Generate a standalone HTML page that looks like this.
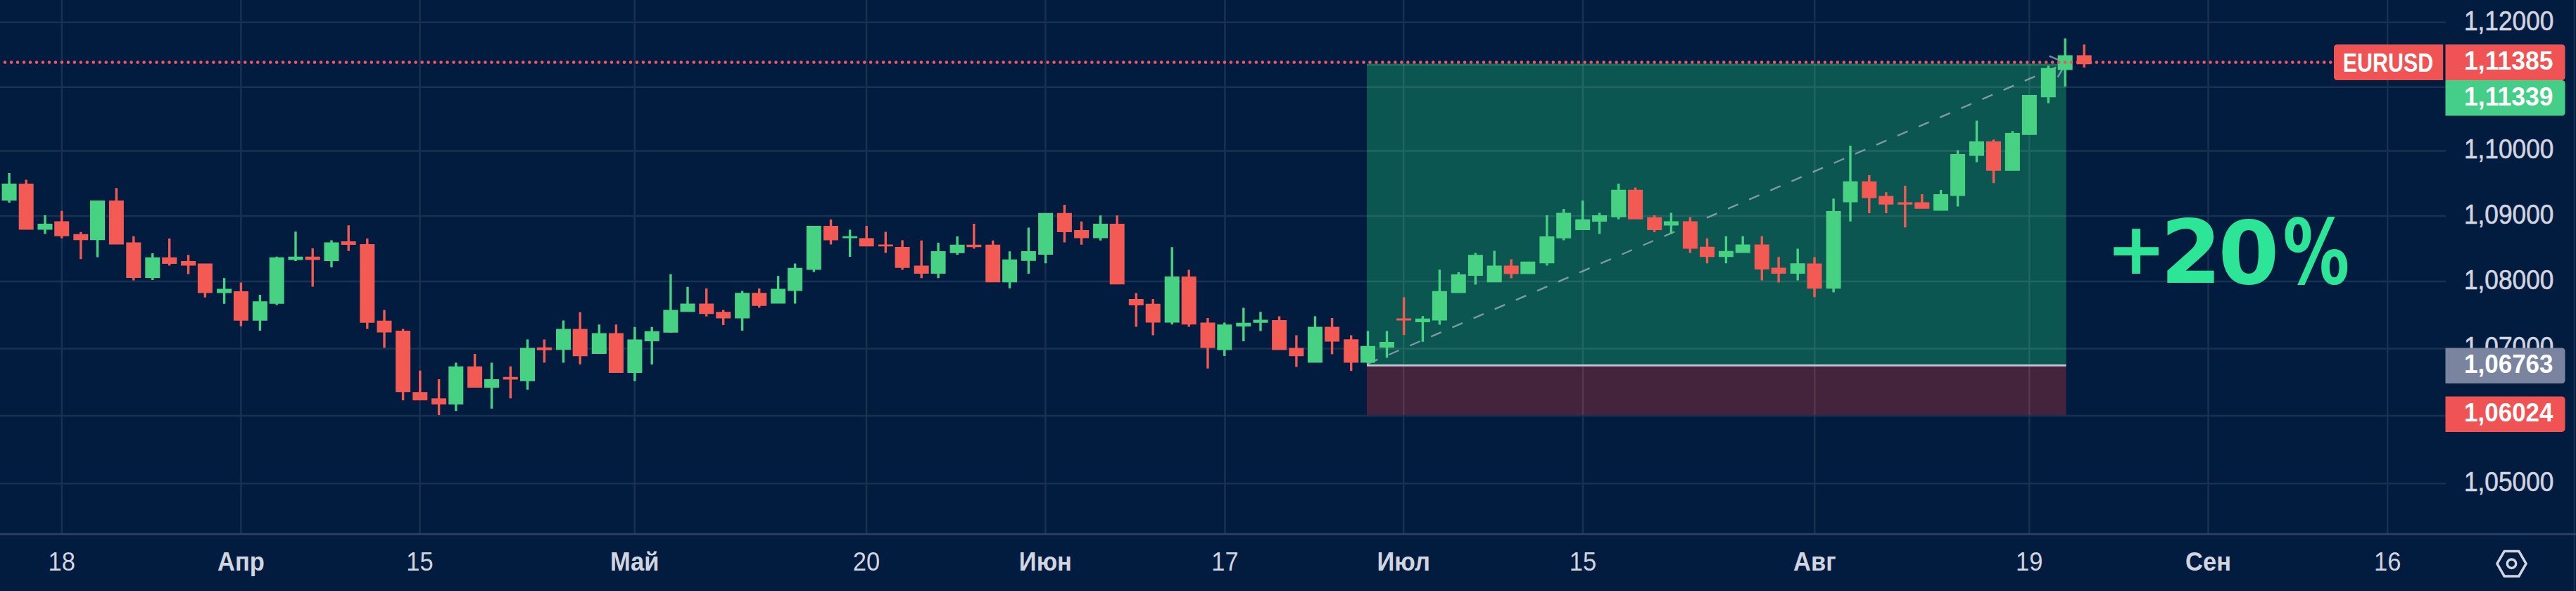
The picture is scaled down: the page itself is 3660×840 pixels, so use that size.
<!DOCTYPE html>
<html><head><meta charset="utf-8"><style>
html,body{margin:0;padding:0;background:#021c3f;}
svg{display:block;}
</style></head><body>
<svg width="3660" height="840" viewBox="0 0 3660 840">
<rect x="0" y="0" width="3660" height="840" fill="#021c3f"/>
<rect x="1942" y="90.6" width="993.6" height="428.7" fill="#0b5650"/>
<rect x="1942" y="519.3" width="993.6" height="70.5" fill="#44233c"/>
<line x1="1942" x2="2935.6" y1="92.2" y2="92.2" stroke="#17705e" stroke-width="3"/>
<path d="M0 31.8H3475M0 123.8H3475M0 214.6H3475M0 306.9H3475M0 400.1H3475M0 495.5H3475M0 591.1H3475M0 687.2H3475M87.8 0V757.9M342.4 0V757.9M596.5 0V757.9M901.7 0V757.9M1231.0 0V757.9M1485.4 0V757.9M1740.4 0V757.9M1994.2 0V757.9M2249.0 0V757.9M2578.3 0V757.9M2883.3 0V757.9M3137.5 0V757.9M3392.2 0V757.9" stroke="#ffffff" stroke-opacity="0.095" stroke-width="2.5" fill="none"/>
<line x1="3657.6" x2="3657.6" y1="0" y2="840" stroke="#1b3258" stroke-width="1.8"/>
<line x1="0" x2="3660" y1="759.1" y2="759.1" stroke="#2c4068" stroke-width="2.6"/>
<line x1="1942" y1="517.6" x2="2935.6" y2="89.6" stroke="#aab3c8" stroke-opacity="0.72" stroke-width="2.4" stroke-dasharray="15.8 17" stroke-dashoffset="-1"/>
<path d="M2911.6 79.6L2935.6 89.6L2923.6 109.6" stroke="#aab3c8" stroke-opacity="0.72" stroke-width="2.4" fill="none"/>
<path d="M11.4 246.1h3.4V288.0h-3.4ZM2.6 260.9h21V285.0h-21ZM62.3 306.1h3.4V332.4h-3.4ZM53.5 318.0h21V326.4h-21ZM136.8 285.0h3.4V365.4h-3.4ZM128.0 285.0h21V341.3h-21ZM215.1 359.9h3.4V398.0h-3.4ZM206.3 365.8h21V395.0h-21ZM316.9 395.3h3.4V431.8h-3.4ZM308.1 410.5h21V416.6h-21ZM367.7 419.1h3.4V469.9h-3.4ZM358.9 428.3h21V455.7h-21ZM391.5 364.8h3.4V433.4h-3.4ZM382.7 365.8h21V431.8h-21ZM418.3 329.3h3.4V370.9h-3.4ZM409.5 364.8h21V369.4h-21ZM469.3 341.5h3.4V380.0h-3.4ZM460.5 344.5h21V370.9h-21ZM646.1 515.4h3.4V584.1h-3.4ZM637.3 520.8h21V574.7h-21ZM696.9 515.4h3.4V580.7h-3.4ZM688.1 539.1h21V551.0h-21ZM747.8 482.6h3.4V553.7h-3.4ZM739.0 494.4h21V541.8h-21ZM798.8 455.5h3.4V515.4h-3.4ZM790.0 467.4h21V497.2h-21ZM849.6 461.3h3.4V502.9h-3.4ZM840.8 473.5h21V502.9h-21ZM900.2 464.7h3.4V541.8h-3.4ZM891.4 482.6h21V530.0h-21ZM924.5 464.7h3.4V518.1h-3.4ZM915.7 470.8h21V485.0h-21ZM951.2 389.8h3.4V473.1h-3.4ZM942.4 440.6h21V472.7h-21ZM975.3 407.8h3.4V443.3h-3.4ZM966.5 431.5h21V443.3h-21ZM1052.9 413.5h3.4V470.0h-3.4ZM1044.1 416.2h21V452.4h-21ZM1103.9 392.2h3.4V431.5h-3.4ZM1095.1 410.5h21V431.5h-21ZM1127.9 374.6h3.4V431.5h-3.4ZM1119.1 380.7h21V413.5h-21ZM1154.6 321.1h3.4V386.4h-3.4ZM1145.8 321.1h21V383.4h-21ZM1205.9 326.5h3.4V365.1h-3.4ZM1197.1 335.7h21V338.4h-21ZM1331.4 345.1h3.4V395.2h-3.4ZM1322.6 357.0h21V389.1h-21ZM1358.4 336.0h3.4V362.0h-3.4ZM1349.6 347.8h21V359.7h-21ZM1432.9 357.3h3.4V409.8h-3.4ZM1424.1 368.8h21V401.3h-21ZM1459.7 323.5h3.4V389.1h-3.4ZM1450.9 357.0h21V370.8h-21ZM1483.9 302.8h3.4V374.2h-3.4ZM1475.1 302.8h21V362.0h-21ZM1561.9 306.2h3.4V341.7h-3.4ZM1553.1 318.1h21V338.4h-21ZM1663.5 351.2h3.4V461.2h-3.4ZM1654.7 392.9h21V458.5h-21ZM1738.1 458.5h3.4V505.9h-3.4ZM1729.3 461.2h21V497.4h-21ZM1765.1 437.5h3.4V484.9h-3.4ZM1756.3 458.8h21V463.9h-21ZM1789.3 443.3h3.4V470.4h-3.4ZM1780.5 454.4h21V458.8h-21ZM1866.8 449.4h3.4V515.4h-3.4ZM1858.0 464.6h21V515.4h-21ZM1941.8 470.4h3.4V518.7h-3.4ZM1933.0 491.7h21V515.4h-21ZM1968.8 470.4h3.4V508.6h-3.4ZM1960.0 485.9h21V494.0h-21ZM2019.7 449.3h3.4V485.8h-3.4ZM2010.9 452.7h21V458.1h-21ZM2043.7 383.3h3.4V461.5h-3.4ZM2034.9 413.7h21V455.4h-21ZM2070.6 387.0h3.4V416.4h-3.4ZM2061.8 390.0h21V416.4h-21ZM2094.7 359.6h3.4V404.6h-3.4ZM2085.9 362.3h21V392.1h-21ZM2121.5 356.5h3.4V401.2h-3.4ZM2112.7 377.5h21V401.2h-21ZM2169.1 371.8h3.4V389.4h-3.4ZM2160.3 371.8h21V389.4h-21ZM2196.2 306.0h3.4V377.5h-3.4ZM2187.4 335.9h21V374.2h-21ZM2220.0 296.9h3.4V341.5h-3.4ZM2211.2 302.6h21V338.8h-21ZM2247.0 285.0h3.4V327.0h-3.4ZM2238.2 311.7h21V327.0h-21ZM2270.9 302.6h3.4V332.4h-3.4ZM2262.1 306.0h21V315.1h-21ZM2298.0 261.0h3.4V311.7h-3.4ZM2289.2 269.8h21V308.7h-21ZM2372.7 302.6h3.4V332.4h-3.4ZM2363.9 314.5h21V320.5h-21ZM2450.7 335.8h3.4V374.3h-3.4ZM2441.9 356.8h21V365.2h-21ZM2474.5 335.8h3.4V359.5h-3.4ZM2465.7 347.6h21V359.5h-21ZM2552.5 353.4h3.4V398.4h-3.4ZM2543.7 374.3h21V388.9h-21ZM2603.4 282.2h3.4V415.4h-3.4ZM2594.6 299.9h21V410.3h-21ZM2627.3 207.1h3.4V314.7h-3.4ZM2618.5 257.8h21V287.5h-21ZM2755.9 270.0h3.4V299.6h-3.4ZM2747.1 276.1h21V299.6h-21ZM2779.9 213.6h3.4V293.6h-3.4ZM2771.1 219.0h21V278.5h-21ZM2806.8 171.5h3.4V230.6h-3.4ZM2798.0 201.1h21V221.5h-21ZM2857.7 186.3h3.4V242.8h-3.4ZM2848.9 189.0h21V242.8h-21ZM2881.7 134.9h3.4V191.8h-3.4ZM2872.9 134.9h21V191.8h-21ZM2908.6 93.3h3.4V146.8h-3.4ZM2899.8 96.7h21V138.3h-21ZM2932.5 54.4h3.4V123.1h-3.4ZM2923.7 78.4h21V99.4h-21Z" fill="#47d283"/>
<path d="M35.5 255.4h3.4V326.4h-3.4ZM26.7 260.9h21V326.4h-21ZM86.0 299.8h3.4V338.7h-3.4ZM77.2 314.6h21V335.8h-21ZM113.1 329.8h3.4V368.3h-3.4ZM104.3 332.8h21V341.3h-21ZM163.7 267.2h3.4V347.6h-3.4ZM154.9 285.0h21V347.6h-21ZM188.1 335.8h3.4V398.4h-3.4ZM179.3 344.6h21V395.0h-21ZM239.0 338.9h3.4V377.5h-3.4ZM230.2 365.8h21V375.0h-21ZM265.9 362.3h3.4V389.7h-3.4ZM257.1 370.9h21V377.5h-21ZM289.7 374.5h3.4V422.7h-3.4ZM280.9 374.5h21V416.6h-21ZM340.7 401.4h3.4V463.8h-3.4ZM331.9 414.0h21V455.7h-21ZM442.5 353.1h3.4V407.5h-3.4ZM433.7 364.8h21V369.4h-21ZM493.5 320.2h3.4V356.7h-3.4ZM484.7 343.0h21V348.0h-21ZM520.1 338.9h3.4V467.4h-3.4ZM511.3 347.0h21V458.7h-21ZM544.3 440.5h3.4V494.3h-3.4ZM535.5 455.7h21V472.4h-21ZM570.9 467.4h3.4V568.9h-3.4ZM562.1 469.9h21V557.2h-21ZM595.1 526.8h3.4V568.9h-3.4ZM586.3 557.2h21V568.9h-21ZM621.9 539.1h3.4V589.9h-3.4ZM613.1 566.2h21V574.7h-21ZM672.9 502.9h3.4V551.0h-3.4ZM664.1 520.8h21V551.0h-21ZM723.6 520.8h3.4V566.2h-3.4ZM714.8 535.7h21V539.5h-21ZM771.7 482.6h3.4V515.4h-3.4ZM762.9 493.8h21V497.8h-21ZM822.5 443.7h3.4V518.1h-3.4ZM813.7 467.4h21V506.3h-21ZM873.7 461.3h3.4V530.0h-3.4ZM864.9 473.5h21V530.0h-21ZM1002.0 410.1h3.4V449.7h-3.4ZM993.2 431.5h21V446.3h-21ZM1026.0 440.6h3.4V461.9h-3.4ZM1017.2 443.3h21V452.4h-21ZM1077.0 410.1h3.4V437.2h-3.4ZM1068.2 416.2h21V434.8h-21ZM1178.8 312.0h3.4V347.5h-3.4ZM1170.0 321.1h21V341.4h-21ZM1229.5 321.1h3.4V350.2h-3.4ZM1220.7 338.4h21V350.2h-21ZM1256.6 329.6h3.4V359.4h-3.4ZM1247.8 347.5h21V350.2h-21ZM1280.4 341.4h3.4V383.4h-3.4ZM1271.6 350.9h21V380.7h-21ZM1307.5 341.7h3.4V395.2h-3.4ZM1298.7 377.6h21V389.1h-21ZM1382.1 318.1h3.4V353.6h-3.4ZM1373.3 347.8h21V351.2h-21ZM1409.0 341.7h3.4V401.3h-3.4ZM1400.2 347.8h21V401.3h-21ZM1510.7 291.0h3.4V344.4h-3.4ZM1501.9 302.8h21V329.9h-21ZM1534.9 314.7h3.4V347.8h-3.4ZM1526.1 326.9h21V338.4h-21ZM1585.5 306.2h3.4V404.3h-3.4ZM1576.7 318.1h21V404.3h-21ZM1612.6 416.5h3.4V464.6h-3.4ZM1603.8 425.0h21V434.1h-21ZM1636.5 425.0h3.4V476.4h-3.4ZM1627.7 431.8h21V458.5h-21ZM1687.5 383.4h3.4V464.6h-3.4ZM1678.7 392.9h21V461.2h-21ZM1714.3 452.1h3.4V523.8h-3.4ZM1705.5 458.5h21V494.4h-21ZM1815.9 449.4h3.4V497.4h-3.4ZM1807.1 455.1h21V497.4h-21ZM1840.2 476.4h3.4V521.5h-3.4ZM1831.4 494.4h21V506.2h-21ZM1890.9 452.1h3.4V503.5h-3.4ZM1882.1 464.6h21V485.6h-21ZM1918.0 476.4h3.4V527.2h-3.4ZM1909.2 482.2h21V515.4h-21ZM1992.9 422.4h3.4V476.3h-3.4ZM1984.1 452.4h21V455.5h-21ZM2145.5 368.4h3.4V395.5h-3.4ZM2136.7 377.5h21V389.4h-21ZM2321.9 266.4h3.4V311.7h-3.4ZM2313.1 269.8h21V311.7h-21ZM2349.0 306.0h3.4V329.7h-3.4ZM2340.2 308.7h21V327.0h-21ZM2399.7 308.7h3.4V359.5h-3.4ZM2390.9 314.5h21V353.4h-21ZM2423.8 338.8h3.4V374.3h-3.4ZM2415.0 350.7h21V365.2h-21ZM2501.6 335.8h3.4V398.4h-3.4ZM2492.8 347.6h21V383.1h-21ZM2525.4 365.2h3.4V401.4h-3.4ZM2516.6 380.4h21V388.9h-21ZM2576.3 365.5h3.4V422.2h-3.4ZM2567.5 374.5h21V410.3h-21ZM2654.1 248.9h3.4V302.9h-3.4ZM2645.3 257.8h21V281.4h-21ZM2678.1 273.2h3.4V302.9h-3.4ZM2669.3 278.5h21V290.7h-21ZM2705.1 263.9h3.4V323.2h-3.4ZM2696.3 287.5h21V290.7h-21ZM2729.1 276.1h3.4V296.8h-3.4ZM2720.3 287.5h21V296.8h-21ZM2830.8 198.2h3.4V260.3h-3.4ZM2822.0 201.1h21V242.8h-21Z" fill="#f25a53"/>
<line x1="1942" x2="2935.6" y1="519.3" y2="519.3" stroke="#c6c8d8" stroke-width="2.8"/>
<path d="M7.10 88.6h0M16.08 88.6h0M25.06 88.6h0M34.04 88.6h0M43.01 88.6h0M51.99 88.6h0M60.97 88.6h0M69.95 88.6h0M78.93 88.6h0M87.91 88.6h0M96.88 88.6h0M105.86 88.6h0M114.84 88.6h0M123.82 88.6h0M132.80 88.6h0M141.78 88.6h0M150.76 88.6h0M159.73 88.6h0M168.71 88.6h0M177.69 88.6h0M186.67 88.6h0M195.65 88.6h0M204.63 88.6h0M213.61 88.6h0M222.58 88.6h0M231.56 88.6h0M240.54 88.6h0M249.52 88.6h0M258.50 88.6h0M267.48 88.6h0M276.46 88.6h0M285.43 88.6h0M294.41 88.6h0M303.39 88.6h0M312.37 88.6h0M321.35 88.6h0M330.33 88.6h0M339.30 88.6h0M348.28 88.6h0M357.26 88.6h0M366.24 88.6h0M375.22 88.6h0M384.20 88.6h0M393.18 88.6h0M402.15 88.6h0M411.13 88.6h0M420.11 88.6h0M429.09 88.6h0M438.07 88.6h0M447.05 88.6h0M456.03 88.6h0M465.00 88.6h0M473.98 88.6h0M482.96 88.6h0M491.94 88.6h0M500.92 88.6h0M509.90 88.6h0M518.87 88.6h0M527.85 88.6h0M536.83 88.6h0M545.81 88.6h0M554.79 88.6h0M563.77 88.6h0M572.75 88.6h0M581.72 88.6h0M590.70 88.6h0M599.68 88.6h0M608.66 88.6h0M617.64 88.6h0M626.62 88.6h0M635.60 88.6h0M644.57 88.6h0M653.55 88.6h0M662.53 88.6h0M671.51 88.6h0M680.49 88.6h0M689.47 88.6h0M698.44 88.6h0M707.42 88.6h0M716.40 88.6h0M725.38 88.6h0M734.36 88.6h0M743.34 88.6h0M752.32 88.6h0M761.29 88.6h0M770.27 88.6h0M779.25 88.6h0M788.23 88.6h0M797.21 88.6h0M806.19 88.6h0M815.17 88.6h0M824.14 88.6h0M833.12 88.6h0M842.10 88.6h0M851.08 88.6h0M860.06 88.6h0M869.04 88.6h0M878.01 88.6h0M886.99 88.6h0M895.97 88.6h0M904.95 88.6h0M913.93 88.6h0M922.91 88.6h0M931.89 88.6h0M940.86 88.6h0M949.84 88.6h0M958.82 88.6h0M967.80 88.6h0M976.78 88.6h0M985.76 88.6h0M994.74 88.6h0M1003.71 88.6h0M1012.69 88.6h0M1021.67 88.6h0M1030.65 88.6h0M1039.63 88.6h0M1048.61 88.6h0M1057.58 88.6h0M1066.56 88.6h0M1075.54 88.6h0M1084.52 88.6h0M1093.50 88.6h0M1102.48 88.6h0M1111.46 88.6h0M1120.43 88.6h0M1129.41 88.6h0M1138.39 88.6h0M1147.37 88.6h0M1156.35 88.6h0M1165.33 88.6h0M1174.31 88.6h0M1183.28 88.6h0M1192.26 88.6h0M1201.24 88.6h0M1210.22 88.6h0M1219.20 88.6h0M1228.18 88.6h0M1237.15 88.6h0M1246.13 88.6h0M1255.11 88.6h0M1264.09 88.6h0M1273.07 88.6h0M1282.05 88.6h0M1291.03 88.6h0M1300.00 88.6h0M1308.98 88.6h0M1317.96 88.6h0M1326.94 88.6h0M1335.92 88.6h0M1344.90 88.6h0M1353.88 88.6h0M1362.85 88.6h0M1371.83 88.6h0M1380.81 88.6h0M1389.79 88.6h0M1398.77 88.6h0M1407.75 88.6h0M1416.72 88.6h0M1425.70 88.6h0M1434.68 88.6h0M1443.66 88.6h0M1452.64 88.6h0M1461.62 88.6h0M1470.60 88.6h0M1479.57 88.6h0M1488.55 88.6h0M1497.53 88.6h0M1506.51 88.6h0M1515.49 88.6h0M1524.47 88.6h0M1533.44 88.6h0M1542.42 88.6h0M1551.40 88.6h0M1560.38 88.6h0M1569.36 88.6h0M1578.34 88.6h0M1587.32 88.6h0M1596.29 88.6h0M1605.27 88.6h0M1614.25 88.6h0M1623.23 88.6h0M1632.21 88.6h0M1641.19 88.6h0M1650.17 88.6h0M1659.14 88.6h0M1668.12 88.6h0M1677.10 88.6h0M1686.08 88.6h0M1695.06 88.6h0M1704.04 88.6h0M1713.01 88.6h0M1721.99 88.6h0M1730.97 88.6h0M1739.95 88.6h0M1748.93 88.6h0M1757.91 88.6h0M1766.89 88.6h0M1775.86 88.6h0M1784.84 88.6h0M1793.82 88.6h0M1802.80 88.6h0M1811.78 88.6h0M1820.76 88.6h0M1829.74 88.6h0M1838.71 88.6h0M1847.69 88.6h0M1856.67 88.6h0M1865.65 88.6h0M1874.63 88.6h0M1883.61 88.6h0M1892.59 88.6h0M1901.56 88.6h0M1910.54 88.6h0M1919.52 88.6h0M1928.50 88.6h0M1937.48 88.6h0M1946.46 88.6h0M1955.43 88.6h0M1964.41 88.6h0M1973.39 88.6h0M1982.37 88.6h0M1991.35 88.6h0M2000.33 88.6h0M2009.31 88.6h0M2018.28 88.6h0M2027.26 88.6h0M2036.24 88.6h0M2045.22 88.6h0M2054.20 88.6h0M2063.18 88.6h0M2072.16 88.6h0M2081.13 88.6h0M2090.11 88.6h0M2099.09 88.6h0M2108.07 88.6h0M2117.05 88.6h0M2126.03 88.6h0M2135.00 88.6h0M2143.98 88.6h0M2152.96 88.6h0M2161.94 88.6h0M2170.92 88.6h0M2179.90 88.6h0M2188.88 88.6h0M2197.85 88.6h0M2206.83 88.6h0M2215.81 88.6h0M2224.79 88.6h0M2233.77 88.6h0M2242.75 88.6h0M2251.72 88.6h0M2260.70 88.6h0M2269.68 88.6h0M2278.66 88.6h0M2287.64 88.6h0M2296.62 88.6h0M2305.60 88.6h0M2314.57 88.6h0M2323.55 88.6h0M2332.53 88.6h0M2341.51 88.6h0M2350.49 88.6h0M2359.47 88.6h0M2368.45 88.6h0M2377.42 88.6h0M2386.40 88.6h0M2395.38 88.6h0M2404.36 88.6h0M2413.34 88.6h0M2422.32 88.6h0M2431.30 88.6h0M2440.27 88.6h0M2449.25 88.6h0M2458.23 88.6h0M2467.21 88.6h0M2476.19 88.6h0M2485.17 88.6h0M2494.14 88.6h0M2503.12 88.6h0M2512.10 88.6h0M2521.08 88.6h0M2530.06 88.6h0M2539.04 88.6h0M2548.02 88.6h0M2556.99 88.6h0M2565.97 88.6h0M2574.95 88.6h0M2583.93 88.6h0M2592.91 88.6h0M2601.89 88.6h0M2610.87 88.6h0M2619.84 88.6h0M2628.82 88.6h0M2637.80 88.6h0M2646.78 88.6h0M2655.76 88.6h0M2664.74 88.6h0M2673.71 88.6h0M2682.69 88.6h0M2691.67 88.6h0M2700.65 88.6h0M2709.63 88.6h0M2718.61 88.6h0M2727.59 88.6h0M2736.56 88.6h0M2745.54 88.6h0M2754.52 88.6h0M2763.50 88.6h0M2772.48 88.6h0M2781.46 88.6h0M2790.43 88.6h0M2799.41 88.6h0M2808.39 88.6h0M2817.37 88.6h0M2826.35 88.6h0M2835.33 88.6h0M2844.31 88.6h0M2853.28 88.6h0M2862.26 88.6h0M2871.24 88.6h0M2880.22 88.6h0M2889.20 88.6h0M2898.18 88.6h0M2907.16 88.6h0M2916.13 88.6h0M2925.11 88.6h0M2934.09 88.6h0M2943.07 88.6h0M2952.05 88.6h0M2961.03 88.6h0M2970.01 88.6h0M2978.98 88.6h0M2987.96 88.6h0M2996.94 88.6h0M3005.92 88.6h0M3014.90 88.6h0M3023.88 88.6h0M3032.85 88.6h0M3041.83 88.6h0M3050.81 88.6h0M3059.79 88.6h0M3068.77 88.6h0M3077.75 88.6h0M3086.73 88.6h0M3095.70 88.6h0M3104.68 88.6h0M3113.66 88.6h0M3122.64 88.6h0M3131.62 88.6h0M3140.60 88.6h0M3149.57 88.6h0M3158.55 88.6h0M3167.53 88.6h0M3176.51 88.6h0M3185.49 88.6h0M3194.47 88.6h0M3203.45 88.6h0M3212.42 88.6h0M3221.40 88.6h0M3230.38 88.6h0M3239.36 88.6h0M3248.34 88.6h0M3257.32 88.6h0M3266.30 88.6h0M3275.27 88.6h0M3284.25 88.6h0M3293.23 88.6h0M3302.21 88.6h0M3311.19 88.6h0" stroke="#ee5560" stroke-width="4.6" stroke-linecap="round"/>
<path d="M2959.5 63.2h3.4V96.0h-3.4ZM2950.7 78.4h21V91.2h-21Z" fill="#f25a53"/>
<text x="2992.4" y="388.5" font-family="DejaVu Sans, sans-serif" font-weight="bold" font-size="101.6" fill="#2de597">+</text>
<text x="3069.4" y="401.7" font-family="DejaVu Sans, sans-serif" font-weight="bold" font-size="125" fill="#2de597">2</text>
<text x="3151.4" y="402.5" font-family="DejaVu Sans, sans-serif" font-weight="bold" font-size="124.9" fill="#2de597">0</text>
<text x="3243.5" y="403.4" textLength="94.7" lengthAdjust="spacingAndGlyphs" font-family="DejaVu Sans, sans-serif" font-weight="bold" font-size="127.8" fill="#2de597">%</text>
<text x="3501" y="42.6" textLength="127.3" lengthAdjust="spacingAndGlyphs" font-family="Liberation Sans, sans-serif" font-size="38.5" fill="#d1d5e0" stroke="#d1d5e0" stroke-width="0.6">1,12000</text>
<text x="3501" y="134.6" textLength="127.3" lengthAdjust="spacingAndGlyphs" font-family="Liberation Sans, sans-serif" font-size="38.5" fill="#d1d5e0" stroke="#d1d5e0" stroke-width="0.6">1,11000</text>
<text x="3501" y="225.4" textLength="127.3" lengthAdjust="spacingAndGlyphs" font-family="Liberation Sans, sans-serif" font-size="38.5" fill="#d1d5e0" stroke="#d1d5e0" stroke-width="0.6">1,10000</text>
<text x="3501" y="317.7" textLength="127.3" lengthAdjust="spacingAndGlyphs" font-family="Liberation Sans, sans-serif" font-size="38.5" fill="#d1d5e0" stroke="#d1d5e0" stroke-width="0.6">1,09000</text>
<text x="3501" y="410.9" textLength="127.3" lengthAdjust="spacingAndGlyphs" font-family="Liberation Sans, sans-serif" font-size="38.5" fill="#d1d5e0" stroke="#d1d5e0" stroke-width="0.6">1,08000</text>
<text x="3501" y="506.3" textLength="127.3" lengthAdjust="spacingAndGlyphs" font-family="Liberation Sans, sans-serif" font-size="38.5" fill="#d1d5e0" stroke="#d1d5e0" stroke-width="0.6">1,07000</text>
<text x="3501" y="601.9" textLength="127.3" lengthAdjust="spacingAndGlyphs" font-family="Liberation Sans, sans-serif" font-size="38.5" fill="#d1d5e0" stroke="#d1d5e0" stroke-width="0.6">1,06000</text>
<text x="3501" y="698.0" textLength="127.3" lengthAdjust="spacingAndGlyphs" font-family="Liberation Sans, sans-serif" font-size="38.5" fill="#d1d5e0" stroke="#d1d5e0" stroke-width="0.6">1,05000</text>
<path d="M3474.5 63.2 H3640 a4.5 4.5 0 0 1 4.5 4.5 V109.5 a4.5 4.5 0 0 1 -4.5 4.5 H3474.5 Z" fill="#f05353"/>
<text x="3501.1" y="99.0" textLength="126.4" lengthAdjust="spacingAndGlyphs" font-family="Liberation Sans, sans-serif" font-weight="bold" font-size="37.5" fill="#ffffff">1,11385</text>
<path d="M3474.5 114.0 H3640 a4.5 4.5 0 0 1 4.5 4.5 V160.0 a4.5 4.5 0 0 1 -4.5 4.5 H3474.5 Z" fill="#44ce87"/>
<text x="3501.1" y="149.7" textLength="126.4" lengthAdjust="spacingAndGlyphs" font-family="Liberation Sans, sans-serif" font-weight="bold" font-size="37.5" fill="#ffffff">1,11339</text>
<path d="M3474.5 494.5 H3640 a4.5 4.5 0 0 1 4.5 4.5 V540.5 a4.5 4.5 0 0 1 -4.5 4.5 H3474.5 Z" fill="#7a849f"/>
<text x="3501.1" y="530.2" textLength="126.4" lengthAdjust="spacingAndGlyphs" font-family="Liberation Sans, sans-serif" font-weight="bold" font-size="37.5" fill="#ffffff">1,06763</text>
<path d="M3474.5 563.4 H3640 a4.5 4.5 0 0 1 4.5 4.5 V609.4 a4.5 4.5 0 0 1 -4.5 4.5 H3474.5 Z" fill="#f05353"/>
<text x="3501.1" y="599.0" textLength="126.4" lengthAdjust="spacingAndGlyphs" font-family="Liberation Sans, sans-serif" font-weight="bold" font-size="37.5" fill="#ffffff">1,06024</text>
<path d="M3320.5 63.2 H3471.2 V114 H3320.5 a4.5 4.5 0 0 1 -4.5 -4.5 V67.7 a4.5 4.5 0 0 1 4.5 -4.5 Z" fill="#f05353"/>
<text x="3328.8" y="101.8" textLength="128.4" lengthAdjust="spacingAndGlyphs" font-family="Liberation Sans, sans-serif" font-weight="bold" font-size="36.5" fill="#ffffff">EURUSD</text>
<text transform="translate(87.8 811.2) scale(0.92 1)" text-anchor="middle" font-family="Liberation Sans, sans-serif" font-size="37.5" fill="#d1d5e0">18</text>
<text transform="translate(342.4 811.2) scale(0.92 1)" text-anchor="middle" font-family="Liberation Sans, sans-serif" font-weight="bold" font-size="37.5" fill="#d1d5e0">Апр</text>
<text transform="translate(596.5 811.2) scale(0.92 1)" text-anchor="middle" font-family="Liberation Sans, sans-serif" font-size="37.5" fill="#d1d5e0">15</text>
<text transform="translate(901.7 811.2) scale(0.92 1)" text-anchor="middle" font-family="Liberation Sans, sans-serif" font-weight="bold" font-size="37.5" fill="#d1d5e0">Май</text>
<text transform="translate(1231.0 811.2) scale(0.92 1)" text-anchor="middle" font-family="Liberation Sans, sans-serif" font-size="37.5" fill="#d1d5e0">20</text>
<text transform="translate(1485.4 811.2) scale(0.92 1)" text-anchor="middle" font-family="Liberation Sans, sans-serif" font-weight="bold" font-size="37.5" fill="#d1d5e0">Июн</text>
<text transform="translate(1740.4 811.2) scale(0.92 1)" text-anchor="middle" font-family="Liberation Sans, sans-serif" font-size="37.5" fill="#d1d5e0">17</text>
<text transform="translate(1994.2 811.2) scale(0.92 1)" text-anchor="middle" font-family="Liberation Sans, sans-serif" font-weight="bold" font-size="37.5" fill="#d1d5e0">Июл</text>
<text transform="translate(2249.0 811.2) scale(0.92 1)" text-anchor="middle" font-family="Liberation Sans, sans-serif" font-size="37.5" fill="#d1d5e0">15</text>
<text transform="translate(2578.3 811.2) scale(0.92 1)" text-anchor="middle" font-family="Liberation Sans, sans-serif" font-weight="bold" font-size="37.5" fill="#d1d5e0">Авг</text>
<text transform="translate(2883.3 811.2) scale(0.92 1)" text-anchor="middle" font-family="Liberation Sans, sans-serif" font-size="37.5" fill="#d1d5e0">19</text>
<text transform="translate(3137.5 811.2) scale(0.92 1)" text-anchor="middle" font-family="Liberation Sans, sans-serif" font-weight="bold" font-size="37.5" fill="#d1d5e0">Сен</text>
<text transform="translate(3392.2 811.2) scale(0.92 1)" text-anchor="middle" font-family="Liberation Sans, sans-serif" font-size="37.5" fill="#d1d5e0">16</text>
<polygon points="3589.1,801.2 3578.8,819.0 3558.2,819.0 3547.9,801.2 3558.2,783.4 3578.8,783.4" fill="none" stroke="#d1d5e0" stroke-width="3.5" stroke-linejoin="round"/>
<circle cx="3568.5" cy="801.2" r="6.2" fill="none" stroke="#d1d5e0" stroke-width="3.5"/>
</svg>
</body></html>
